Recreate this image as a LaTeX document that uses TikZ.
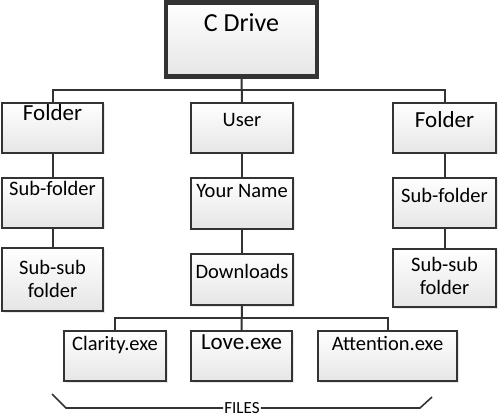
\documentclass[tikz,border=0pt]{standalone}
\usepackage{fontspec}
\setmainfont{Carlito}
\usetikzlibrary{shadows}
\definecolor{lc}{HTML}{333333}
\tikzset{
  box/.style={draw=lc, line width=1.7pt, top color=white, bottom color=black!10,
    inner sep=0pt, rectangle,
    drop shadow={opacity=0.18, shadow xshift=1.5pt, shadow yshift=-1.5pt}},
  txt/.style={inner sep=0pt, anchor=base, text=black, font=\fontsize{20.5}{23}\selectfont},
  big/.style={font=\fontsize{23}{26}\selectfont},
  conn/.style={draw=lc, line width=2pt},
}
\begin{document}
\begin{tikzpicture}[x=1pt,y=-1pt]
\useasboundingbox (0,0) rectangle (500,419);
% top box
\node[box, line width=3.5pt, minimum width=152pt, minimum height=75pt] (cdrive) at (241.5,39.5) {};
\draw[lc, line width=1.1pt] ([xshift=4pt,yshift=-4pt]cdrive.north west) rectangle ([xshift=-4pt,yshift=4pt]cdrive.south east);
\node[txt, font=\fontsize{26}{30}\selectfont] (tcdrive) at (241.5,32) {C Drive};
% left column
\node[box, minimum width=101pt, minimum height=50pt] (folderL) at (52.5,128) {};
\node[box, minimum width=101pt, minimum height=50pt] (subL) at (52.5,203) {};
\node[box, minimum width=101pt, minimum height=63pt] (subsubL) at (52.5,279.5) {};
% middle column
\node[box, minimum width=102pt, minimum height=50pt] (user) at (242,128) {};
\node[box, minimum width=102pt, minimum height=51pt] (yourname) at (242,203.5) {};
\node[box, minimum width=102pt, minimum height=51pt] (downloads) at (242,279.5) {};
% right column
\node[box, minimum width=103pt, minimum height=50pt] (folderR) at (444.5,128) {};
\node[box, minimum width=103pt, minimum height=50pt] (subR) at (444.5,203) {};
\node[box, minimum width=103pt, minimum height=58pt] (subsubR) at (444.5,278) {};
% files
\node[box, minimum width=102pt, minimum height=50pt] (clarity) at (115,356) {};
\node[box, minimum width=101pt, minimum height=50pt] (love) at (241.5,356) {};
\node[box, minimum width=139pt, minimum height=50pt] (attention) at (387.5,356) {};
% texts
\node[txt, big] (tfolderL) at (52.5,121) {Folder};
\node[txt] (tsubL) at (52.5,196) {Sub-folder};
\node[txt, anchor=center, align=center] (tsubsubL) at (52.5,279) {Sub-sub\\folder};
\node[txt] (tuser) at (242,127) {User};
\node[txt] (tyourname) at (242,198) {Your Name};
\node[txt] (tdownloads) at (242,279) {Downloads};
\node[txt, big] (tfolderR) at (444.5,128) {Folder};
\node[txt] (tsubR) at (444.5,203) {Sub-folder};
\node[txt, anchor=center, align=center] (tsubsubR) at (444.5,276) {Sub-sub\\folder};
\node[txt] (tclarity) at (115,350) {Clarity.exe};
\node[txt, big] (tlove) at (241.5,349) {Love.exe};
\node[txt] (tattention) at (387.5,350) {Attention.exe};
% connectors
\coordinate (bus1) at (241.5,90);
\draw[conn] (cdrive.south) -- (user.north);
\draw[conn] (folderL.north) |- (bus1) -| (folderR.north);
\draw[conn] (folderL.south) -- (subL.north);
\draw[conn] (subL.south) -- (subsubL.north);
\draw[conn] (user.south) -- (yourname.north);
\draw[conn] (yourname.south) -- (downloads.north);
\draw[conn] (folderR.south) -- (subR.north);
\draw[conn] (subR.south) -- (subsubR.north);
\coordinate (bus2) at (242,318);
\draw[conn] (downloads.south) -- (love.north);
\draw[conn] (clarity.north) |- (bus2) -| (attention.north);
% FILES bracket
\node[inner sep=1pt, font=\fontsize{17}{20}\selectfont] (files) at (242,408) {FILES};
\coordinate (bl) at (52,394);
\coordinate (br) at (432,397);
\draw[conn, line width=1.6pt] (bl) -- (66,408) -- (files.west);
\draw[conn, line width=1.6pt] (files.east) -- (420,408) -- (br);
\end{tikzpicture}
\end{document}
